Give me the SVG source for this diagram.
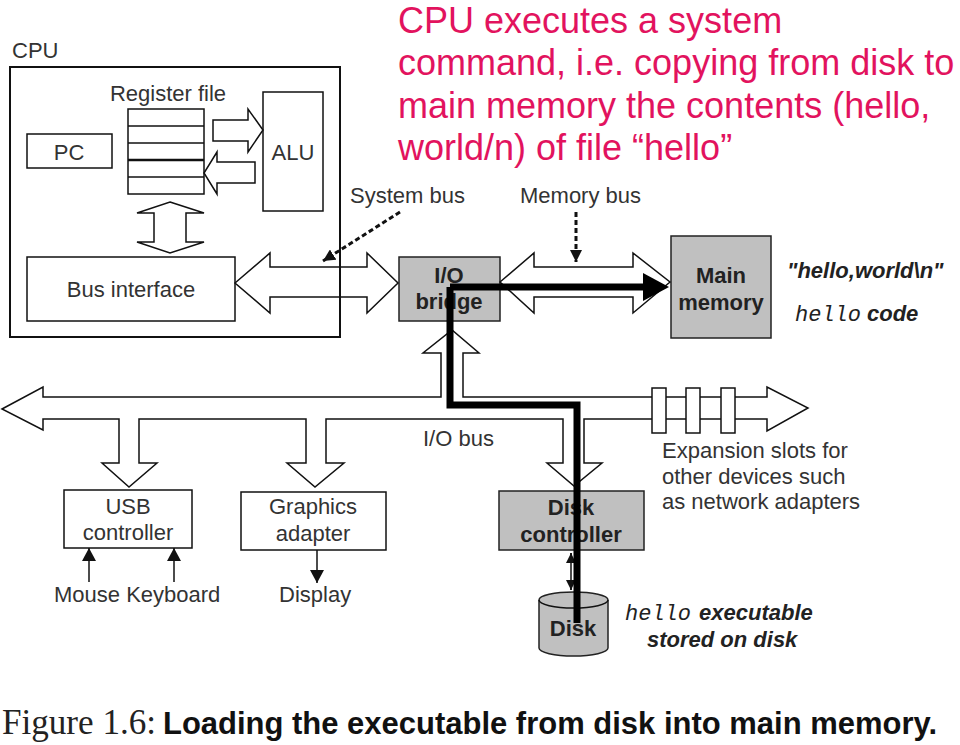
<svg xmlns="http://www.w3.org/2000/svg" width="960" height="745" viewBox="0 0 960 745">
<style>
.t{font-family:"Liberation Sans",Arial,sans-serif;font-size:22px;fill:#333}
.m{text-anchor:middle}
.b{font-weight:bold;fill:#222}
.bi{font-weight:bold;font-style:italic;fill:#222}
.mono{font-family:"Liberation Mono","Courier New",monospace;font-style:italic;font-size:22px;fill:#222}
.box{fill:#fff;stroke:#111;stroke-width:1.5}
.gray{fill:#c0c0c0;stroke:#222;stroke-width:1.5}
.bus{fill:none;stroke:#111;stroke-width:1.5;stroke-linejoin:miter}
.slot{fill:#fff;stroke:#111;stroke-width:1.5}
.thin{fill:none;stroke:#111;stroke-width:1.5}
.dash{fill:none;stroke:#111;stroke-width:3;stroke-dasharray:5 3}
.title{font-family:"Liberation Sans",Arial,sans-serif;font-size:36px;fill:#e2135e}
</style>
<defs>
<marker id="ah" viewBox="0 0 12 12" refX="12" refY="6" markerWidth="12" markerHeight="12" orient="auto" markerUnits="userSpaceOnUse"><path d="M0,0 L12,6 L0,12 z" fill="#111"/></marker>
<marker id="sm" viewBox="0 0 13 14" refX="13" refY="7" markerWidth="13" markerHeight="14" orient="auto" markerUnits="userSpaceOnUse"><path d="M0,0 L13,7 L0,14 z" fill="#111"/></marker>
<marker id="tiny" viewBox="0 0 10 10" refX="10" refY="5" markerWidth="10" markerHeight="10" orient="auto" markerUnits="userSpaceOnUse"><path d="M0,0 L10,5 L0,10 z" fill="#111"/></marker>
</defs>
<rect width="960" height="745" fill="#fff"/>

<g id="title">
<text class="title" x="398" y="33">CPU executes a system</text>
<text class="title" x="398" y="75">command, i.e. copying from disk to</text>
<text class="title" x="398" y="118">main memory the contents (hello,</text>
<text class="title" x="398" y="160">world/n) of file “hello”</text>
</g>

<g id="cpu">
<text class="t" x="12" y="58">CPU</text>
<rect x="10" y="67" width="330" height="270" fill="none" stroke="#111" stroke-width="2"/>
</g>
<g id="register-file">
<text class="t m" x="168" y="101">Register file</text>
<rect class="box" x="128" y="109" width="76" height="85"/>
<line class="thin" x1="128" y1="126" x2="204" y2="126"/>
<line class="thin" x1="128" y1="143" x2="204" y2="143"/>
<line x1="128" y1="160" x2="204" y2="160" stroke="#111" stroke-width="2.5"/>
<line class="thin" x1="128" y1="177" x2="204" y2="177"/>
</g>
<g id="pc">
<rect class="box" x="27" y="134" width="85" height="34"/>
<text class="t m" x="69" y="160">PC</text>
</g>
<g id="alu">
<rect class="box" x="263" y="92" width="60" height="119"/>
<text class="t m" x="293" y="160">ALU</text>
</g>
<g id="bus-interface">
<rect class="box" x="27" y="257" width="208" height="64"/>
<text class="t m" x="131" y="297">Bus interface</text>
</g>
<g id="io-bridge">
<rect class="gray" x="399" y="257" width="101" height="64"/>
<text class="t m b" x="449" y="283">I/O</text>
<text class="t m b" x="449" y="309">bridge</text>
</g>
<g id="main-memory">
<rect class="gray" x="671" y="236" width="100" height="102"/>
<text class="t m b" x="721" y="283">Main</text>
<text class="t m b" x="721" y="310">memory</text>
</g>
<g id="usb-controller">
<rect class="box" x="64" y="490" width="128" height="58"/>
<text class="t m" x="128" y="514">USB</text>
<text class="t m" x="128" y="540">controller</text>
</g>
<g id="graphics-adapter">
<rect class="box" x="241" y="492" width="145" height="58"/>
<text class="t m" x="313" y="514">Graphics</text>
<text class="t m" x="313" y="541">adapter</text>
</g>
<g id="disk-controller">
<rect class="gray" x="499" y="491" width="145" height="59"/>
<text class="t m b" x="571" y="515">Disk</text>
<text class="t m b" x="571" y="542">controller</text>
</g>
<g id="disk">
<path d="M539,600 L539,648 A34.5,8 0 0 0 608,648 L608,600 A34.5,8 0 0 0 539,600 Z" class="gray"/>
<path d="M539,600 A34.5,8 0 0 0 608,600" class="thin"/>
<text class="t m b" x="573" y="636">Disk</text>
</g>

<g id="labels">
<text class="t" x="350" y="203">System bus</text>
<text class="t" x="520" y="203">Memory bus</text>
<text class="t" x="423" y="446">I/O bus</text>
<text class="t" x="662" y="458">Expansion slots for</text>
<text class="t" x="662" y="484">other devices such</text>
<text class="t" x="662" y="509">as network adapters</text>
<text class="t bi" x="787" y="278">"hello,world\n"</text>
<text class="mono" x="795" y="321">hello</text>
<text class="t bi" x="867" y="321">code</text>
<text class="mono" x="625" y="620">hello</text>
<text class="t bi" x="699" y="620">executable</text>
<text class="t bi" x="647" y="647">stored on disk</text>
<text class="t" x="54" y="602">Mouse Keyboard</text>
<text class="t" x="279" y="602">Display</text>
</g>

<g id="connectors">
<path class="bus" d="M213,120 L248,120 L248,109 L263,130 L248,152 L248,141 L213,141 Z"/>
<path class="bus" d="M255,162 L217,162 L217,152 L204,173 L217,194 L217,183 L255,183 Z"/>
<path class="bus" d="M170,202 L204,213 L186,213 L186,242 L204,242 L170,253 L137,242 L154,242 L154,213 L137,213 Z"/>
<path class="bus" d="M235,283 L270,253 L270,267 L367,267 L367,253 L398,283 L367,313 L367,297 L270,297 L270,313 Z"/>
<path class="bus" d="M500,282 L534,253 L534,267 L633,267 L633,253 L670,282 L633,313 L633,297 L534,297 L534,313 Z"/>
<path class="bus" d="M2,409 L43,387 L43,397 L441,397 L441,353 L423,353 L452,330 L479,353 L463,353 L463,397 L767,397 L767,387 L808,408 L767,431 L767,419 L584,419 L584,463 L602,463 L574,486 L547,463 L563,463 L563,419 L326,419 L326,463 L344,463 L315,487 L287,463 L306,463 L306,419 L139,419 L139,463 L157,463 L129,487 L102,463 L119,463 L119,419 L43,419 L43,430 Z"/>
<rect class="slot" x="652" y="388" width="14" height="45"/>
<rect class="slot" x="686" y="388" width="14" height="45"/>
<rect class="slot" x="721" y="388" width="14" height="45"/>
<path class="dash" d="M400,212 L323,261" marker-end="url(#ah)"/>
<path class="dash" d="M576,212 L576,262" marker-end="url(#ah)"/>
<path class="thin" d="M89,582 L89,548" marker-end="url(#sm)"/>
<path class="thin" d="M174,582 L174,548" marker-end="url(#sm)"/>
<path class="thin" d="M317,550 L317,583" marker-end="url(#sm)"/>
<path class="thin" d="M571,553 L571,590"/>
<path d="M571,560 L571,553" class="thin" marker-end="url(#tiny)"/>
<path d="M571,583 L571,590" class="thin" marker-end="url(#tiny)"/>
</g>

<g id="transfer-path">
<path d="M450,287 L645,287 M450,287 L450,405 L577,405 L577,623" fill="none" stroke="#000" stroke-width="7" stroke-linejoin="miter"/>
<path d="M643,273 L669,287 L643,301 Z" fill="#000"/>
</g>

<g id="caption">
<text x="2" y="734" font-family="Liberation Serif,'Times New Roman',serif" font-size="35" fill="#222" textLength="154" lengthAdjust="spacingAndGlyphs">Figure 1.6:</text>
<text x="163" y="734" font-family="Liberation Sans,Arial,sans-serif" font-size="31" font-weight="bold" fill="#111" textLength="774" lengthAdjust="spacingAndGlyphs">Loading the executable from disk into main memory.</text>
</g>
</svg>
